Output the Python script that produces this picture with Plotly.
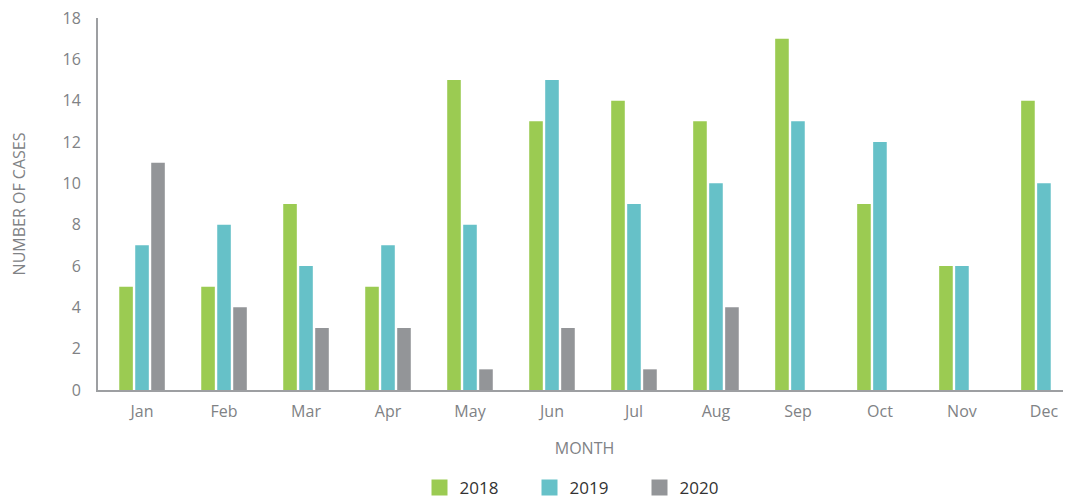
import plotly.graph_objects as go

months = ["Jan", "Feb", "Mar", "Apr", "May", "Jun", "Jul", "Aug", "Sep", "Oct", "Nov", "Dec"]
cases_2018 = [5, 5, 9, 5, 15, 13, 14, 13, 17, 9, 6, 14]
cases_2019 = [7, 8, 6, 7, 8, 15, 9, 10, 13, 12, 6, 10]
cases_2020 = [11, 4, 3, 3, 1, 3, 1, 4, None, None, None, None]
y_ticks = [0, 2, 4, 6, 8, 10, 12, 14, 16, 18]

series = [("2018", cases_2018, "#9BCB52"), ("2019", cases_2019, "#66C1C8"), ("2020", cases_2020, "#939598")]

fig = go.Figure()
for name, vals, color in series:
    fig.add_trace(go.Bar(x=months, y=vals, name=name, showlegend=False,
                         marker=dict(color=color, line=dict(width=0))))
# legend entries with larger square swatches
for name, vals, color in series:
    fig.add_trace(go.Scatter(x=[None], y=[None], mode="markers", name=name,
                             marker=dict(symbol="square", size=18, color=color)))

axis_color = "#9d9fa2"
text_color = "#808285"
fig.update_layout(
    width=1063, height=492,
    margin=dict(l=90, r=0, t=10, b=110, autoexpand=False),
    paper_bgcolor="white", plot_bgcolor="white",
    font=dict(family="Open Sans", color=text_color, size=15),
    barmode="group", bargap=0.415, bargroupgap=0.15,
    showlegend=True,
    legend=dict(orientation="h", x=0.5, xanchor="center", y=-0.263, yanchor="middle",
                font=dict(size=17, color="#333333"), itemwidth=30, entrywidth=65,
                traceorder="normal"),
    xaxis=dict(showline=True, linecolor=axis_color, linewidth=2, ticks="", showgrid=False,
               range=[-0.537, 11.33], ticklabelstandoff=6,
               title=dict(text="MONTH", font=dict(size=16, color=text_color), standoff=22),
               tickfont=dict(size=16, color=text_color)),
    yaxis=dict(showline=True, linecolor=axis_color, linewidth=2, showgrid=False, zeroline=False,
               range=[0, 18], tickvals=y_ticks, ticks="", ticklabelstandoff=12,
               ticklabeloverflow="allow",
               tickfont=dict(size=16, color=text_color),
               title=dict(text="NUMBER OF CASES", font=dict(size=16, color=text_color), standoff=40)),
)
fig.write_html("out.html")
